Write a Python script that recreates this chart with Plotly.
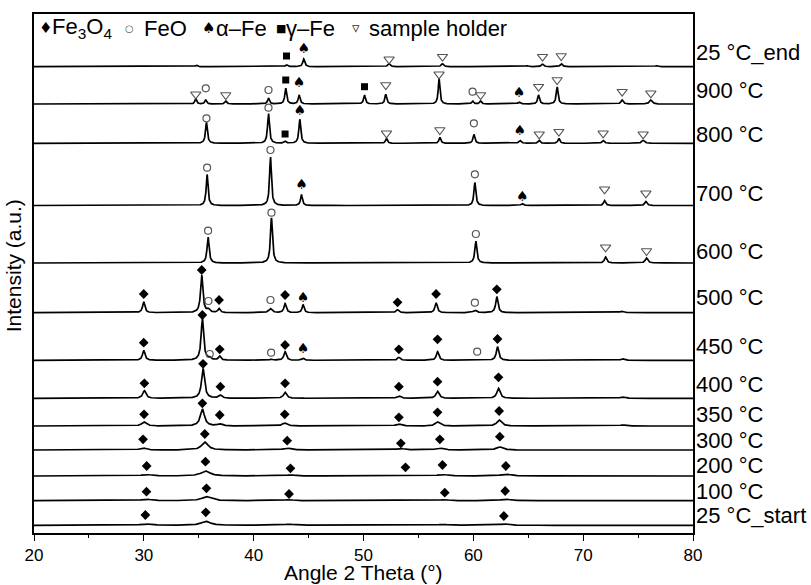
import numpy as np
import plotly.graph_objects as go

# ---------------- data ----------------
labels = ["25 °C_start", "100 °C", "200 °C", "300 °C", "350 °C", "400 °C",
          "450 °C", "500 °C", "600 °C", "700 °C", "800 °C", "900 °C", "25 °C_end"]
# vertical offset of every pattern (stacked plot, arbitrary intensity units)
offsets = [7.7, 32.3, 57.0, 83.0, 107.0, 134.7, 172.7, 220.3, 270.0, 327.5, 389.7, 429.0, 466.3]

# peak tables: (2theta, height, FWHM) per pattern
peaks = {
    "25 °C_start": [(30.14, 1.5, 1.1), (35.64, 4.0, 1.0), (43.2, 1.0, 1.1), (57.2, 1.0, 1.1), (62.78, 1.5, 1.0)],
    "100 °C": [(30.24, 1.5, 1.0), (35.70, 4.0, 1.0), (43.22, 1.0, 1.0), (57.4, 1.0, 1.0), (62.9, 1.5, 1.0)],
    "200 °C": [(30.26, 1.5, 1.0), (35.61, 5.0, 1.0), (43.35, 1.0, 1.0), (57.19, 1.5, 1.0), (62.96, 2.0, 1.0)],
    "300 °C": [(29.93, 2.0, 0.7), (35.55, 8.0, 0.7), (43.05, 2.0, 0.8), (53.4, 1.5, 0.8), (56.95, 2.0, 0.8),
               (62.41, 3.0, 0.7)],
    "350 °C": [(30.02, 4.0, 0.5), (35.33, 17.0, 0.45), (36.91, 2.0, 0.5), (42.83, 3.0, 0.5), (53.22, 2.0, 0.6),
               (56.74, 4.0, 0.5), (62.35, 6.0, 0.5), (73.6, 1.0, 0.6)],
    "400 °C": [(30.05, 7.6, 0.35), (35.39, 30.0, 0.33), (36.97, 3.0, 0.35), (42.86, 6.0, 0.35), (53.22, 2.5, 0.4),
               (56.74, 7.0, 0.35), (62.29, 10.0, 0.35), (73.6, 1.5, 0.5)],
    "450 °C": [(29.99, 10.0, 0.27), (35.33, 42.0, 0.27), (36.0, 2.0, 0.3), (36.91, 4.0, 0.27), (41.59, 1.0, 0.3),
               (42.86, 8.6, 0.27), (44.5, 2.0, 0.25), (53.22, 3.0, 0.3), (56.74, 8.6, 0.27), (62.2, 13.6, 0.27),
               (73.6, 1.5, 0.4)],
    "500 °C": [(29.99, 11.0, 0.25), (35.27, 37.7, 0.25), (35.88, 3.0, 0.3), (36.85, 4.0, 0.25), (41.53, 4.0, 0.35),
               (42.86, 9.0, 0.25), (44.5, 8.0, 0.22), (53.1, 3.0, 0.3), (56.61, 10.0, 0.25), (60.14, 2.5, 0.35),
               (62.14, 16.0, 0.25), (73.5, 1.5, 0.4)],
    "600 °C": [(35.85, 26.0, 0.22), (41.62, 45.0, 0.22), (60.23, 22.0, 0.22), (72.04, 6.0, 0.25), (75.77, 5.0, 0.28)],
    "700 °C": [(35.76, 31.0, 0.2), (41.53, 49.0, 0.2), (44.35, 11.0, 0.2), (60.14, 23.0, 0.2), (64.45, 2.0, 0.25),
               (71.95, 5.0, 0.22), (75.71, 4.0, 0.25)],
    "800 °C": [(35.70, 21.0, 0.2), (41.35, 30.0, 0.2), (42.86, 2.0, 0.2), (44.20, 24.0, 0.2), (52.09, 5.0, 0.2),
               (56.95, 6.0, 0.2), (60.05, 9.0, 0.2), (64.24, 3.0, 0.25), (66.0, 3.0, 0.2), (67.79, 5.0, 0.2),
               (71.82, 3.0, 0.25), (75.46, 3.0, 0.3)],
    "900 °C": [(34.73, 5.7, 0.18), (35.64, 4.0, 0.2), (37.46, 3.0, 0.2), (41.35, 6.0, 0.2), (42.92, 15.7, 0.2),
               (44.14, 9.0, 0.2), (50.09, 9.0, 0.2), (52.03, 9.7, 0.2), (56.88, 25.7, 0.18), (59.93, 3.0, 0.2),
               (60.66, 3.0, 0.2), (64.17, 2.0, 0.25), (65.94, 9.0, 0.2), (67.63, 17.3, 0.2), (73.55, 4.0, 0.25),
               (76.16, 4.0, 0.3)],
    "25 °C_end": [(34.8, 1.5, 0.2), (42.99, 2.0, 0.25), (44.56, 7.7, 0.22), (52.33, 3.0, 0.25), (57.19, 3.0, 0.25),
                  (64.9, 1.0, 0.3), (66.3, 2.5, 0.25), (68.0, 3.0, 0.25), (76.7, 1.0, 0.3)],
}

# phase markers: (pattern, 2theta, height above that pattern's baseline)
fe3o4_marks = [
    ("25 °C_start", 30.14, 10.3), ("25 °C_start", 35.64, 13.0), ("25 °C_start", 62.78, 9.3),
    ("100 °C", 30.24, 9.0), ("100 °C", 35.70, 12.4), ("100 °C", 43.22, 6.7), ("100 °C", 57.4, 8.0), ("100 °C", 62.9, 9.7),
    ("200 °C", 30.26, 10.0), ("200 °C", 35.61, 14.3), ("200 °C", 43.35, 7.7), ("200 °C", 53.82, 8.7),
    ("200 °C", 57.19, 11.0), ("200 °C", 62.96, 10.0),
    ("300 °C", 29.93, 10.7), ("300 °C", 35.55, 16.0), ("300 °C", 43.05, 9.3), ("300 °C", 53.4, 6.7),
    ("300 °C", 56.95, 10.7), ("300 °C", 62.41, 13.3),
    ("350 °C", 30.02, 11.7), ("350 °C", 35.33, 22.7), ("350 °C", 36.91, 11.0), ("350 °C", 42.83, 11.7),
    ("350 °C", 53.22, 8.7), ("350 °C", 56.74, 13.7), ("350 °C", 62.35, 15.0),
    ("400 °C", 30.05, 15.0), ("400 °C", 35.39, 34.5), ("400 °C", 36.97, 11.6), ("400 °C", 42.86, 15.0),
    ("400 °C", 53.22, 11.6), ("400 °C", 56.74, 16.6), ("400 °C", 62.29, 21.0),
    ("450 °C", 29.99, 17.6), ("450 °C", 35.33, 45.3), ("450 °C", 36.91, 11.0), ("450 °C", 42.86, 15.3),
    ("450 °C", 53.22, 11.0), ("450 °C", 56.74, 21.0), ("450 °C", 62.2, 21.3),
    ("500 °C", 29.99, 18.7), ("500 °C", 35.27, 42.7), ("500 °C", 36.85, 12.7), ("500 °C", 42.86, 17.7),
    ("500 °C", 53.1, 10.4), ("500 °C", 56.61, 18.7), ("500 °C", 62.14, 23.4),
]
feo_marks = [
    ("450 °C", 36.0, 6.3), ("450 °C", 41.59, 7.6), ("450 °C", 60.35, 8.6),
    ("500 °C", 35.88, 11.7), ("500 °C", 41.53, 12.7), ("500 °C", 60.14, 10.0),
    ("600 °C", 35.85, 32.3), ("600 °C", 41.62, 50.3), ("600 °C", 60.23, 29.0),
    ("700 °C", 35.76, 37.8), ("700 °C", 41.53, 55.5), ("700 °C", 60.14, 31.2),
    ("800 °C", 35.70, 25.0), ("800 °C", 41.35, 35.6), ("800 °C", 60.05, 20.0),
    ("900 °C", 35.64, 15.7), ("900 °C", 41.35, 14.0), ("900 °C", 59.93, 12.3),
]
alpha_fe_marks = [
    ("450 °C", 44.5, 11.0), ("500 °C", 44.5, 14.4),
    ("700 °C", 44.35, 20.5), ("700 °C", 64.45, 8.2),
    ("800 °C", 44.20, 31.6), ("800 °C", 64.24, 11.6),
    ("900 °C", 44.14, 20.7), ("900 °C", 64.17, 10.7),
    ("25 °C_end", 44.56, 17.4),
]
gamma_fe_marks = [
    ("800 °C", 42.86, 9.3), ("900 °C", 42.92, 24.0), ("900 °C", 50.09, 17.3), ("25 °C_end", 42.99, 10.7),
]
holder_marks = [
    ("600 °C", 72.04, 15.7), ("600 °C", 75.77, 12.0),
    ("700 °C", 71.95, 16.2), ("700 °C", 75.71, 12.2),
    ("800 °C", 52.09, 10.0), ("800 °C", 56.95, 13.3), ("800 °C", 66.0, 9.0), ("800 °C", 67.79, 11.6),
    ("800 °C", 71.82, 10.0), ("800 °C", 75.46, 9.0),
    ("900 °C", 34.73, 9.7), ("900 °C", 37.46, 9.0), ("900 °C", 52.03, 19.0), ("900 °C", 56.88, 29.7),
    ("900 °C", 60.66, 9.0), ("900 °C", 65.94, 17.3), ("900 °C", 67.63, 24.0), ("900 °C", 73.55, 12.3),
    ("900 °C", 76.16, 10.7),
    ("25 °C_end", 52.33, 7.4), ("25 °C_end", 57.19, 10.0), ("25 °C_end", 66.3, 10.0), ("25 °C_end", 68.0, 10.7),
]

x_range = [20, 80]
y_range = [0, 519]

# ---------------- figure ----------------
FONT = "Arial, Liberation Sans, sans-serif"
SYMFONT = "DejaVu Sans, sans-serif"
off = dict(zip(labels, offsets))
# vertical position (axis units) of each pattern's name at the right of the frame
label_pos = dict(zip(labels, [17.5, 42.0, 67.5, 92.5, 119.0, 149.0, 187.0, 235.5, 281.7, 340.0, 399.0, 442.5, 481.0]))
tt = np.arange(19.9, 80.0001, 0.02)

fig = go.Figure()
for lab in labels:
    y = np.full_like(tt, off[lab])
    for pos, h, w in peaks[lab]:
        y += h / (1.0 + ((tt - pos) / (w / 2.0)) ** 2)
    fig.add_trace(go.Scatter(x=tt, y=y, mode="lines", line=dict(color="black", width=1.7),
                             showlegend=False, hoverinfo="skip"))


def mark_xy(marks):
    return [m[1] for m in marks], [off[m[0]] + m[2] for m in marks]


mx, my = mark_xy(fe3o4_marks)
fig.add_trace(go.Scatter(x=mx, y=my, mode="markers", showlegend=False, hoverinfo="skip",
                         marker=dict(symbol="diamond", size=7.5, color="black")))
mx, my = mark_xy(feo_marks)
fig.add_trace(go.Scatter(x=mx, y=my, mode="markers", showlegend=False, hoverinfo="skip",
                         marker=dict(symbol="circle-open", size=7, color="#555555", line=dict(width=1.2))))
mx, my = mark_xy(gamma_fe_marks)
fig.add_trace(go.Scatter(x=mx, y=my, mode="markers", showlegend=False, hoverinfo="skip",
                         marker=dict(symbol="square", size=7, color="black")))
mx, my = mark_xy(holder_marks)
fig.add_trace(go.Scatter(x=mx, y=my, mode="markers", showlegend=False, hoverinfo="skip",
                         marker=dict(symbol="triangle-down-open", size=9, color="#555555", line=dict(width=1.1))))
mx, my = mark_xy(alpha_fe_marks)
fig.add_trace(go.Scatter(x=mx, y=my, mode="text", showlegend=False, hoverinfo="skip",
                         text=["\u2660"] * len(mx),
                         textposition="middle center", textfont=dict(size=14, color="#000000", family=SYMFONT)))

annotations = []
for lab in labels:
    annotations.append(dict(x=1, xref="paper", y=label_pos[lab], yref="y", text=lab, showarrow=False,
                            xanchor="left", yanchor="middle", xshift=1,
                            font=dict(size=22, color="black", family=FONT)))

# key row at the top of the frame: (text, left edge in px from frame's left, font size, colour, family)
PLOT_W = 811 - 34 - 118
key_items = [
    ("♦", 2.5, 15, "black", SYMFONT),
    ("Fe<sub>3</sub>O<sub>4</sub>", 16.0, 22, "black", FONT),
    ("○", 88.5, 10, "#555555", SYMFONT),
    ("FeO", 108.0, 22, "black", FONT),
    ("\u2660", 166.0, 15, "black", SYMFONT),
    ("α–Fe", 180.0, 22, "black", FONT),
    ("■", 240.0, 11, "black", SYMFONT),
    ("γ–Fe", 250.0, 22, "black", FONT),
    ("▿", 316.0, 15, "#333333", SYMFONT),
    ("sample holder", 333.0, 22, "black", FONT),
]
for txt, left, fs, col, fam in key_items:
    annotations.append(dict(x=left / PLOT_W, xref="paper", y=1, yref="paper", yshift=-14, text=txt,
                            showarrow=False, xanchor="left", yanchor="middle", align="left",
                            font=dict(size=fs, color=col, family=fam)))

annotations.append(dict(x=0.5, xref="paper", y=0, yref="paper", text="Angle 2 Theta (°)", showarrow=False,
                        xanchor="center", yanchor="middle", yshift=-39,
                        font=dict(size=21, color="black", family=FONT)))
annotations.append(dict(x=0, xref="paper", y=0.514, yref="paper", text="Intensity (a.u.)", showarrow=False,
                        xanchor="center", yanchor="middle", xshift=-21, textangle=-90,
                        font=dict(size=21, color="black", family=FONT)))

fig.update_layout(
    width=811, height=585,
    margin=dict(l=34, r=118, t=14, b=52),
    paper_bgcolor="white", plot_bgcolor="white",
    annotations=annotations,
    xaxis=dict(range=x_range, dtick=10, tick0=20, ticks="outside", ticklen=6, tickwidth=1.4, tickcolor="black",
               minor=dict(dtick=5, ticks="outside", ticklen=3.5, tickwidth=1.4, tickcolor="black"),
               showline=True, linecolor="black", linewidth=1.6, mirror=True, showgrid=False, zeroline=False,
               automargin=False, tickfont=dict(size=17, color="black", family=FONT)),
    yaxis=dict(range=y_range, showticklabels=False, ticks="", showline=True, linecolor="black", linewidth=1.6,
               mirror=True, showgrid=False, zeroline=False, automargin=False),
)

fig.write_html("out.html", config={"displayModeBar": False},
               post_script="document.body.style.margin='0';document.body.style.overflow='hidden';")
